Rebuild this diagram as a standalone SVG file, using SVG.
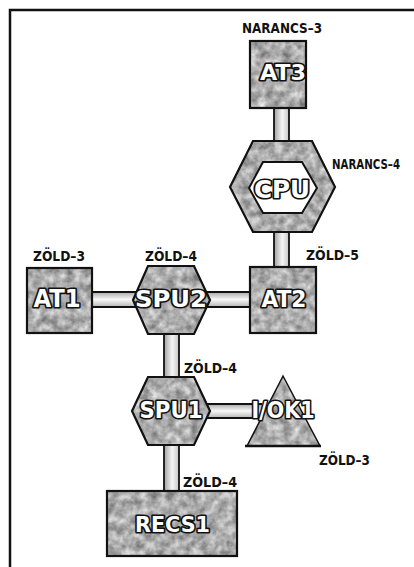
<svg xmlns="http://www.w3.org/2000/svg" width="414" height="567" viewBox="0 0 414 567">
<style>
.lbl{font-family:"DejaVu Sans Condensed","Liberation Sans",sans-serif;font-weight:bold;font-size:14px;fill:#111}
.nt{font-family:"DejaVu Sans Condensed","Liberation Sans",sans-serif;font-weight:bold;fill:#fff;stroke:#111;stroke-width:3.2px;paint-order:stroke;stroke-linejoin:round;text-anchor:middle}
.tex{fill:#aaa;filter:url(#grain)}
.edge{fill:none;stroke:#111;stroke-width:2.2}
.wire{stroke:#111;stroke-width:1.8}
</style>
<defs>
<filter id="grain" x="0" y="0" width="100%" height="100%" color-interpolation-filters="sRGB">
<feTurbulence type="fractalNoise" baseFrequency="0.12" numOctaves="3" seed="5" result="n"/>
<feColorMatrix in="n" type="matrix" values="0.6 0 0 0 0.38  0.6 0 0 0 0.38  0.6 0 0 0 0.38  0 0 0 0 1" result="g"/>
<feComposite in="g" in2="SourceGraphic" operator="in"/>
</filter>
<linearGradient id="gv" x1="0" y1="0" x2="1" y2="0">
<stop offset="0" stop-color="#a0a0a0"/><stop offset="0.55" stop-color="#f6f6f6"/><stop offset="1" stop-color="#c6c6c6"/>
</linearGradient>
<linearGradient id="gh" x1="0" y1="0" x2="0" y2="1">
<stop offset="0" stop-color="#a8a8a8"/><stop offset="0.5" stop-color="#f8f8f8"/><stop offset="1" stop-color="#b4b4b4"/>
</linearGradient>
</defs>
<rect width="414" height="567" fill="#fff"/>
<path d="M10,567 V10 H414" fill="none" stroke="#111" stroke-width="2.5"/>

<g id="connectors">
<g id="c-at3-cpu"><rect x="274" y="108" width="15" height="33" fill="url(#gv)"/><line class="wire" x1="274" y1="108" x2="274" y2="141"/><line class="wire" x1="289" y1="108" x2="289" y2="141"/></g>
<g id="c-cpu-at2"><rect x="274" y="232" width="15" height="35" fill="url(#gv)"/><line class="wire" x1="274" y1="232" x2="274" y2="267"/><line class="wire" x1="289" y1="232" x2="289" y2="267"/></g>
<g id="c-at1-spu2"><rect x="92" y="292" width="50" height="15" fill="url(#gh)"/><line class="wire" x1="92" y1="292" x2="142" y2="292"/><line class="wire" x1="92" y1="307" x2="142" y2="307"/></g>
<g id="c-spu2-at2"><rect x="200" y="292" width="50" height="15" fill="url(#gh)"/><line class="wire" x1="200" y1="292" x2="250" y2="292"/><line class="wire" x1="200" y1="307" x2="250" y2="307"/></g>
<g id="c-spu2-spu1"><rect x="164" y="334" width="15" height="43" fill="url(#gv)"/><line class="wire" x1="164" y1="334" x2="164" y2="377"/><line class="wire" x1="179" y1="334" x2="179" y2="377"/></g>
<g id="c-spu1-iok1"><rect x="204" y="404" width="58" height="14" fill="url(#gh)"/><line class="wire" x1="204" y1="404" x2="262" y2="404"/><line class="wire" x1="204" y1="418" x2="262" y2="418"/></g>
<g id="c-spu1-recs1"><rect x="164" y="445" width="15" height="46" fill="url(#gv)"/><line class="wire" x1="164" y1="445" x2="164" y2="491"/><line class="wire" x1="179" y1="445" x2="179" y2="491"/></g>
</g>

<g id="AT3">
<rect class="tex" x="250" y="41" width="56" height="67"/>
<rect class="edge" x="250" y="41" width="56" height="67"/>
<text class="nt" x="283" y="80" font-size="21" textLength="46" lengthAdjust="spacingAndGlyphs">AT3</text>
<text class="lbl" x="242" y="33" textLength="80" lengthAdjust="spacingAndGlyphs">NARANCS–3</text>
</g>

<g id="CPU">
<polygon class="tex" points="253,141 312,141 335,187 312,232 253,232 230,187"/>
<polygon class="edge" points="253,141 312,141 335,187 312,232 253,232 230,187"/>
<polygon points="263,162 302,162 317,188 302,213 263,213 249,188" fill="#fff" stroke="#111" stroke-width="2"/>
<text class="nt" x="282" y="198" font-size="24" textLength="56" lengthAdjust="spacingAndGlyphs">CPU</text>
<text class="lbl" x="366" y="169" font-size="12.5" text-anchor="middle" textLength="68" lengthAdjust="spacingAndGlyphs">NARANCS–4</text>
</g>

<g id="AT2">
<rect class="tex" x="250" y="267" width="66" height="66"/>
<rect class="edge" x="250" y="267" width="66" height="66"/>
<text class="nt" x="284" y="307" font-size="23" textLength="45" lengthAdjust="spacingAndGlyphs">AT2</text>
<text class="lbl" x="306" y="260" textLength="53" lengthAdjust="spacingAndGlyphs">ZÖLD–5</text>
</g>

<g id="AT1">
<rect class="tex" x="27" y="268" width="65" height="65"/>
<rect class="edge" x="27" y="268" width="65" height="65"/>
<text class="nt" x="57" y="307" font-size="24" textLength="47" lengthAdjust="spacingAndGlyphs">AT1</text>
<text class="lbl" x="33" y="261" textLength="52" lengthAdjust="spacingAndGlyphs">ZÖLD–3</text>
</g>

<g id="SPU2">
<polygon class="tex" points="148,266 194,266 210,300 194,334 148,334 133,300"/>
<polygon class="edge" points="148,266 194,266 210,300 194,334 148,334 133,300"/>
<text class="nt" x="171" y="307" font-size="23" textLength="72" lengthAdjust="spacingAndGlyphs">SPU2</text>
<text class="lbl" x="145" y="261" textLength="52" lengthAdjust="spacingAndGlyphs">ZÖLD–4</text>
</g>

<g id="SPU1">
<polygon class="tex" points="148,377 194,377 210,411 194,445 148,445 132,411"/>
<polygon class="edge" points="148,377 194,377 210,411 194,445 148,445 132,411"/>
<text class="nt" x="171" y="418" font-size="23" textLength="63" lengthAdjust="spacingAndGlyphs">SPU1</text>
<text class="lbl" x="184" y="373" textLength="53" lengthAdjust="spacingAndGlyphs">ZÖLD–4</text>
</g>

<g id="IOK1">
<polygon class="tex" points="283,376 320,446 247,446"/>
<polygon points="283,376 320,446 247,446" fill="none" stroke="#111" stroke-width="1.5"/>
<line x1="245" y1="446" x2="321" y2="446" stroke="#111" stroke-width="2.5"/>
<text class="nt" x="283" y="418" font-size="23" textLength="63" lengthAdjust="spacingAndGlyphs">I/OK1</text>
<text class="lbl" x="319" y="465" textLength="51" lengthAdjust="spacingAndGlyphs">ZÖLD–3</text>
</g>

<g id="RECS1">
<rect class="tex" x="107" y="491" width="130" height="65"/>
<rect class="edge" x="107" y="491" width="130" height="65"/>
<text class="nt" x="172.5" y="532" font-size="21" textLength="75" lengthAdjust="spacingAndGlyphs">RECS1</text>
<text class="lbl" x="183" y="487" textLength="54" lengthAdjust="spacingAndGlyphs">ZÖLD–4</text>
</g>
</svg>
